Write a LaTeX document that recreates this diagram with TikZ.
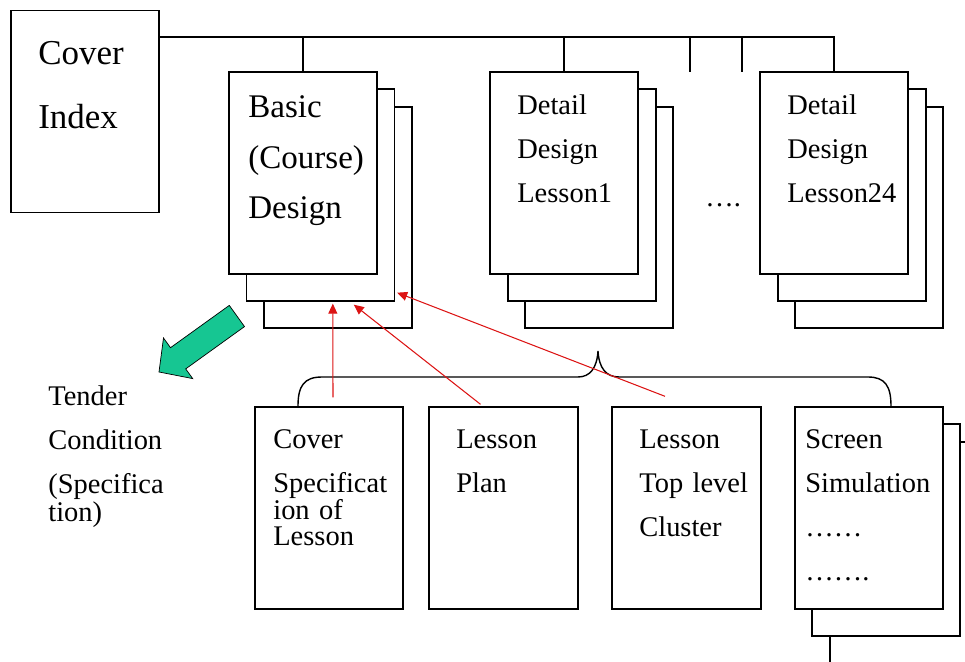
\documentclass[tikz,border=0pt]{standalone}
\usepackage{fontspec}
\setmainfont{Liberation Serif}
\usetikzlibrary{calc,arrows.meta}

\definecolor{seagreen}{RGB}{22,198,146}
\definecolor{linkred}{RGB}{220,20,20}

\tikzset{
  sheet/.style={draw, fill=white, line width=0.8pt, inner sep=0,
    minimum width=2.96cm, minimum height=4.04cm},
  sheettwo/.style={sheet, minimum height=4.24cm},
  sheetthree/.style={sheet, minimum height=4.42cm},
  txt/.style={align=left, text width=4cm, inner sep=0, anchor=base west,
    font=\fontsize{16.2}{25}\selectfont},
  tree/.style={line width=0.8pt},
  redarr/.style={linkred, line width=0.6pt, -{Triangle[length=2mm,width=1.8mm]}}
}

\begin{document}
\begin{tikzpicture}[x=0.02cm, y=-0.02cm]
    \useasboundingbox (0,0) rectangle (965,662);

    % cover / index
    \node[sheet] (cover) at (85,111.5) {};
    \node[txt, font=\fontsize{19.9}{36.4}\selectfont] (coverT) at (38,65) {Cover\\Index};

    % basic design stack
    \node[sheetthree] (basic3) at (338,217.5) {};
    \node[sheettwo] (basic2) at (320.5,195) {};
    \node[sheet] (basic) at (303,173) {};
    \node[txt, font=\fontsize{18.8}{28.7}\selectfont] (basicT) at (248,118) {Basic\\(Course)\\Design};

    % detail design stacks
    \node[sheetthree] (lesA3) at (599,217.5) {};
    \node[sheettwo] (lesA2) at (582,195) {};
    \node[sheet] (lesA) at (564,173) {};
    \node[txt] (lesAT) at (517,115) {Detail\\Design\\Lesson1};

    \node[sheetthree] (lesZ3) at (869,217.5) {};
    \node[sheettwo] (lesZ2) at (852,195) {};
    \node[sheet] (lesZ) at (834,173) {};
    \node[txt] (lesZT) at (787,115) {Detail\\Design\\Lesson24};

    \node[txt] (dots) at (705,207) {….};

    % tree
    \coordinate (busL) at (159,37);
    \coordinate (gapA) at (690,72);
    \coordinate (gapB) at (742,72);
    \draw[tree] (busL) -- (lesZ.north |- busL) -- (lesZ.north);
    \draw[tree] (basic.north) -- (basic.north |- busL);
    \draw[tree] (lesA.north) -- (lesA.north |- busL);
    \draw[tree] (gapA) -- (gapA |- busL);
    \draw[tree] (gapB) -- (gapB |- busL);

    % tender condition
    \draw[fill=seagreen, line width=0.4pt] (159,372) -- (163.5,338) -- (170.5,347.7) -- (229.3,305.4)
        -- (244.5,326.6) -- (185.7,368.9) -- (192.7,378.6) -- cycle;
    \node[txt] (tender) at (48,406) {Tender\\Condition\\(Specifica\\[-9pt]tion)};

    % brace
    \draw[tree] (298,406) .. controls (298,386) and (304,377) .. (322,377) -- (578,377)
        .. controls (590,377) and (597,368) .. (598,351) .. controls (599,368) and (606,377) .. (619,377)
        -- (868,377) .. controls (885,377) and (891,386) .. (891,406);

    % lower sheets
    \node[sheet] (spec) at (329,508) {};
    \node[txt] (specT) at (273,449) {Cover\\Specificat\\[-10pt]ion of\\[-10pt]Lesson};
    \node[sheet, minimum width=2.98cm] (plan) at (503.5,508) {};
    \node[txt] (planT) at (456,449) {Lesson\\Plan};
    \node[sheet, minimum width=2.98cm] (topl) at (686.5,508) {};
    \node[txt] (toplT) at (639,449) {Lesson\\Top level\\Cluster};

    \node[sheetthree] (scr3) at (904,552.5) {};
    \node[sheettwo] (scr2) at (886,530) {};
    \node[sheet] (scr) at (869,508) {};
    \node[txt] (scrT) at (805,449) {Screen\\Simulation\\……\\…….};

    % links
    \draw[redarr] ($(spec.north)+(4,-9)$) -- ($(basic2.south west)+(87,2)$);
    \draw[redarr] ($(plan.north)+(-23,-2)$) -- ($(basic2.south west)+(108,3)$);
    \draw[redarr] ($(topl.north)+(-21.5,-10)$) -- ($(basic2.south east)+(2,-9)$);
\end{tikzpicture}
\end{document}
